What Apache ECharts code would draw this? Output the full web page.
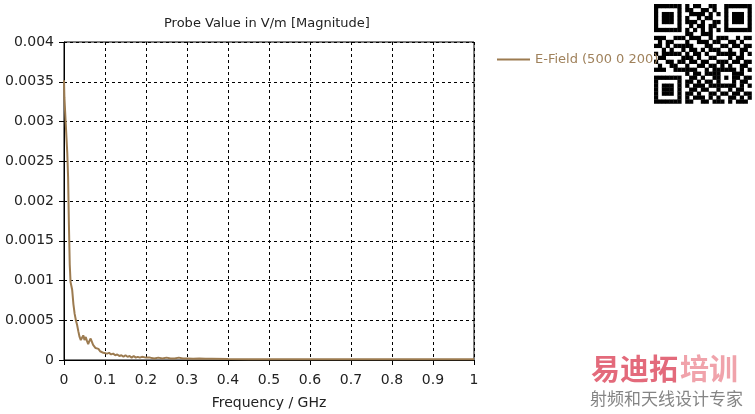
<!DOCTYPE html>
<html><head><meta charset="utf-8">
<script src="https://cdn.jsdelivr.net/npm/echarts@6/dist/echarts.min.js"></script>
<style>html,body{margin:0;padding:0;background:#fff}#c{width:755px;height:414px}</style>
</head><body><div id="c"></div>
<script>
var freqGHz = [0,0.001,0.002,0.004,0.006,0.008,0.010,0.012,0.014,0.016,0.018,0.020,0.023,0.026,0.029,0.032,0.035,0.038,0.041,0.044,0.047,0.050,0.053,0.056,0.059,0.062,0.065,0.068,0.071,0.074,0.077,0.080,0.084,0.088,0.092,0.096,0.100,0.105,0.110,0.115,0.120,0.125,0.130,0.135,0.140,0.145,0.150,0.155,0.160,0.165,0.170,0.175,0.180,0.185,0.190,0.200,0.210,0.220,0.230,0.240,0.250,0.260,0.270,0.280,0.290,0.300,0.315,0.330,0.345,0.360,0.400,0.450,0.500,0.600,0.700,0.800,0.900,1.0];
var eField = [0.00352,0.0033,0.0032,0.0030,0.0028,0.0026,0.0023,0.0017,0.0012,0.00098,0.00093,0.00088,0.00070,0.00058,0.00050,0.00044,0.00036,0.00029,0.00025,0.00028,0.00031,0.00025,0.00029,0.00024,0.00020,0.00024,0.00027,0.00025,0.00019,0.00017,0.00015,0.00013,0.00014,0.00011,0.00012,0.00009,0.00010,0.00008,0.00009,0.00007,0.00008,0.00006,0.00007,0.00005,0.00006,0.00004,0.00006,0.00004,0.00005,0.00003,0.00005,0.00003,0.00004,0.00003,0.00004,0.00003,0.00003,0.00002,0.00003,0.00002,0.00003,0.00002,0.00002,0.00003,0.00002,0.00002,0.000015,0.00002,0.000015,0.000015,0.000012,0.00001,0.00001,0.00001,0.00001,0.00001,0.00001,0.00001];
var seriesName = 'E-Field (500 0 200)';
var titleText = 'Probe Value in V/m [Magnitude]';
var xAxisName = 'Frequency / GHz';
var qrRows = [
"1111111010110011001111111",
"1000001011001101001000001",
"1011101001111010101011101",
"1011101010010110001011101",
"1011101011101001101011101",
"1000001001011011001000001",
"1111111010101010101111111",
"0000000011001110000000000",
"1110011101110010111001011",
"0101100010011101100110100",
"1101011111000110011011011",
"0010100101101011100100110",
"1011111010110100111110101",
"0110000111010011000101100",
"1001101101101100111011011",
"0100110010011011010100110",
"1110011111100101111110101",
"0000000010110111100011100",
"1111111001101001101011011",
"1000001011010110100010110",
"1011101010111011111110101",
"1011101001101100100101100",
"1011101011010011011011011",
"1000001010111010100110101",
"1111111011001101110101110"];

var data = freqGHz.map(function(f,i){return [f, eField[i]];});
var FONT = 'DejaVu Sans';
var lineColor = '#9c7b50';

var qrChildren = [{type:'rect', shape:{x:0,y:0,width:98,height:100}, style:{fill:'#fff'}}];
var m = 3.9;
qrRows.forEach(function(row, r){
  for (var c=0;c<row.length;c++){
    if (row[c]==='1') qrChildren.push({type:'rect', shape:{x:1+c*m, y:1+r*m*1.02, width:m+0.3, height:m*1.02+0.3}, style:{fill:'#000'}});
  }
});

var chart = echarts.init(document.getElementById('c'), null, {renderer:'canvas'});
chart.setOption({
  animation:false,
  backgroundColor:'#fff',
  title:{text:titleText, left:159, top:12,
    textStyle:{fontFamily:FONT, fontSize:13, fontWeight:'normal', color:'#222'}},
  legend:{left:492, top:48, itemWidth:33, itemHeight:2, itemGap:8, icon:'rect',
    data:[{name:seriesName, itemStyle:{color:lineColor}}],
    textStyle:{fontFamily:FONT, fontSize:13, color:'#a0825c'}},
  grid:{left:64, right:281, top:42, bottom:54, show:true, borderColor:'#000', borderWidth:1,
    containLabel:false, outerBoundsMode:'none'},
  xAxis:{type:'value', min:0, max:1, interval:0.1,
    name:xAxisName, nameLocation:'middle', nameGap:36,
    nameTextStyle:{fontFamily:FONT, fontSize:14, color:'#222'},
    axisLine:{show:true, onZero:false, lineStyle:{color:'#000'}},
    axisTick:{show:true, length:5, lineStyle:{color:'#000'}},
    axisLabel:{fontFamily:FONT, fontSize:14, color:'#222', margin:13,
      formatter:function(v){return String(parseFloat(v.toFixed(1)));}},
    splitLine:{show:true, lineStyle:{color:'#000', type:[3,3], width:1}}},
  yAxis:{type:'value', min:0, max:0.004, interval:0.0005,
    axisLine:{show:true, lineStyle:{color:'#000'}},
    axisTick:{show:true, length:5, lineStyle:{color:'#000'}},
    axisLabel:{fontFamily:FONT, fontSize:14, color:'#222', margin:10,
      formatter:function(v){return String(parseFloat(v.toFixed(4)));}},
    splitLine:{show:true, lineStyle:{color:'#000', type:[3,3], width:1}}},
  series:[{name:seriesName, type:'line', data:data, showSymbol:false, symbol:'none',
    lineStyle:{color:lineColor, width:2}, itemStyle:{color:lineColor}, z:5}],
  graphic:[
    {type:'group', left:653, top:3, z:100, children:qrChildren},
    {type:'text', left:591, top:354, z:100, style:{text:'易迪拓', font:'bold 29px "Noto Sans CJK SC"', fill:'rgba(222,80,100,0.85)'}},
    {type:'text', left:680, top:354, z:100, style:{text:'培训', font:'bold 29px "Noto Sans CJK SC"', fill:'rgba(236,140,150,0.8)'}},
    {type:'text', left:590, top:390, z:100, style:{text:'射频和天线设计专家', font:'17px "Noto Sans CJK SC"', fill:'rgba(110,110,110,0.85)'}}
  ]
});
</script></body></html>
